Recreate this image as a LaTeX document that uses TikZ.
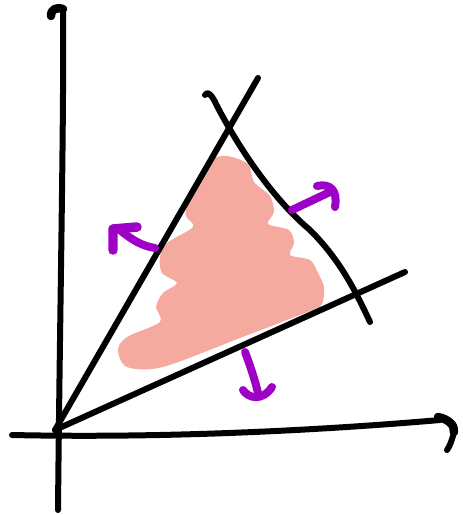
\documentclass[tikz,border=0pt]{standalone}
\usepackage{tikz}
\usetikzlibrary{calc}
\definecolor{sketchPurple}{RGB}{158,0,198}
\definecolor{sketchPink}{RGB}{245,170,160}
\tikzset{
  stroke/.style = {line width=0.12cm, line cap=round, line join=round, black},
  headstroke/.style = {stroke, line width=0.17cm},
  arrowstroke/.style = {line width=0.16cm, line cap=round, line join=round, sketchPurple},
  blob/.style = {fill=sketchPink, draw=none}
}
\begin{document}
\begin{tikzpicture}[x=0.02cm,y=-0.02cm]
\useasboundingbox (0,0) rectangle (463,515);
% feasible region
\fill[blob] plot[smooth cycle, tension=0.5] coordinates {
  (210,160) (227,156) (248,164) (254,182) (270,196) (274,212)
  (268,224) (289,230) (294,243) (290,255) (310,260) (318,273)
  (324,287) (322,304) (310,311) (240,338) (163,367) (127,367)
  (118,350) (127,337) (160,322) (156,307) (163,293) (177,283)
  (162,273) (160,257) (167,243) (193,227) (186,216) (187,200)
  (198,180)};
% axes
\coordinate (O) at (55,430);
\draw[stroke] (58,510) .. controls (60,300) and (64,120) .. (63,10);
\draw[headstroke] (63,9) .. controls (56,7) and (51,9) .. (51,16);
\draw[stroke] (12,435) .. controls (150,438) and (300,432) .. (440,420);
\draw[headstroke] (438,417) .. controls (448,419) and (455,425) .. (454,432);
\draw[stroke] (454,432) .. controls (452,440) and (450,446) .. (447,450);
% constraint lines
\coordinate (A) at (258,78);
\coordinate (B) at (405,272);
\draw[stroke] (O) -- (A);
\draw[stroke] (O) -- (B);
\draw[stroke] (205,95) .. controls (207,90) and (212,95) .. (216,104)
  .. controls (245,160) and (280,205) .. (310,230)
  .. controls (340,260) and (355,290) .. (370,322);
% normal directions
\draw[arrowstroke] (155,248) .. controls (142,246) and (132,240) .. (120,230);
\draw[arrowstroke, line width=0.19cm] (113,250) -- (113,229) -- (137,227);
\draw[arrowstroke] (292,210) -- (332,191);
\draw[arrowstroke] (317,186) .. controls (330,183) and (338,190) .. (335,207);
\draw[arrowstroke] (245,352) .. controls (250,365) and (255,380) .. (258,393);
\draw[arrowstroke] (243,390) .. controls (248,398) and (262,402) .. (272,387);
\end{tikzpicture}
\end{document}
